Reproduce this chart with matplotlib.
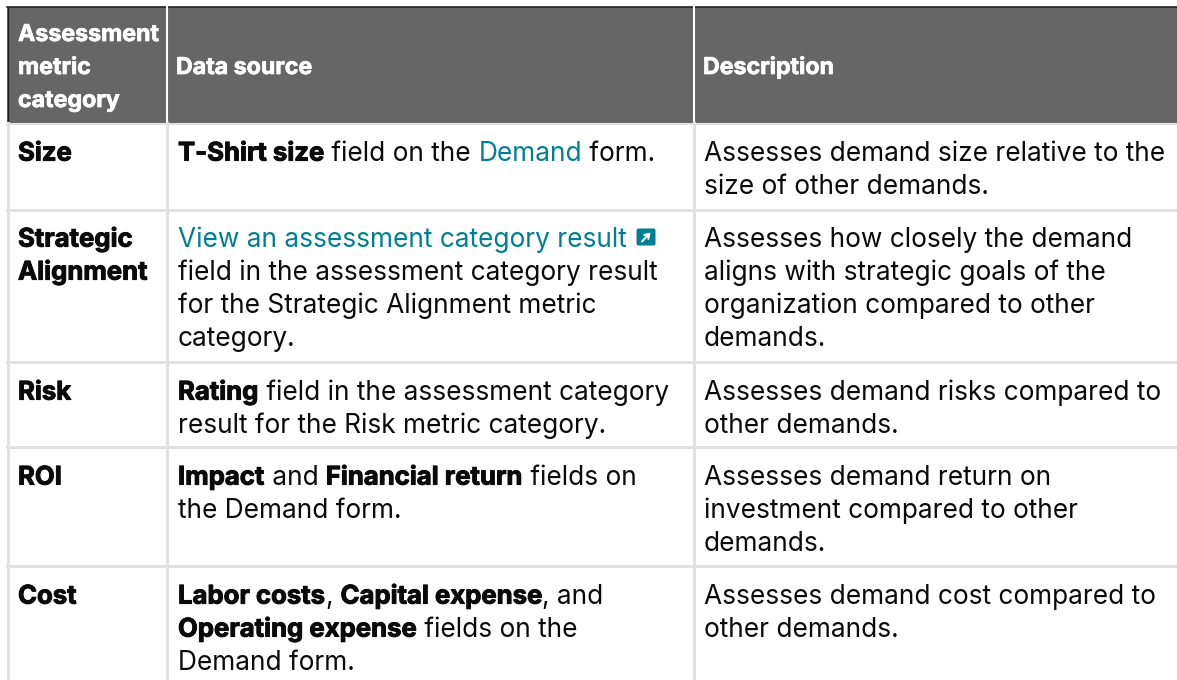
from matplotlib.patches import FancyBboxPatch, Rectangle
from matplotlib.patheffects import withStroke
from matplotlib.pyplot import subplots, savefig

FONT = "Inter"
FONT_SIZE = 18.9
BOLD_SIZE = 18.5
HEADER_SIZE = 16.7
TEXT = "#0a0a0a"
LINK = "#007f94"
HEADER_BG = "#666666"
GRID = "#e1e1e1"

COLUMN_X = [18, 178, 704]
HEADER_X = [18, 176, 703]
SEPARATORS = [167, 694]
ROW_LINES = [209.5, 362, 447, 566]

HEADERS = [["Assessment", "metric", "category"], ["Data source"], ["Description"]]
HEADER_BASELINES = [[41, 74, 107], [74], [74]]

CATEGORIES = [["Size"], ["Strategic", "Alignment"], ["Risk"], ["ROI"], ["Cost"]]
ROW_BASELINES = [160.6, 246.6, 399.6, 484.6, 603.6]
LINE_HEIGHT = 33

# every line is a list of runs: (text, kind), b = bold, r = regular, l = link
SOURCES = [
    [[("T-Shirt size", "b"), (" field on the ", "r"), ("Demand", "l"), (" form.", "r")]],
    [[("View an assessment category result", "l")],
     [("field in the assessment category result", "r")],
     [("for the Strategic Alignment metric", "r")],
     [("category.", "r")]],
    [[("Rating", "b"), (" field in the assessment category", "r")],
     [("result for the Risk metric category.", "r")]],
    [[("Impact", "b"), (" and ", "r"), ("Financial return", "b"), (" fields on", "r")],
     [("the Demand form.", "r")]],
    [[("Labor costs", "b"), (", ", "r"), ("Capital expense", "b"), (", and", "r")],
     [("Operating expense", "b"), (" fields on the", "r")],
     [("Demand form.", "r")]],
]

DESCRIPTIONS = [
    ["Assesses demand size relative to the", "size of other demands."],
    ["Assesses how closely the demand", "aligns with strategic goals of the",
     "organization compared to other", "demands."],
    ["Assesses demand risks compared to", "other demands."],
    ["Assesses demand return on", "investment compared to other", "demands."],
    ["Assesses demand cost compared to", "other demands."],
]


def run_width(ax, text, **style):
    """Advance width of a run, spaces included."""
    renderer = ax.figure.canvas.get_renderer()
    probe = ax.text(0, 0, text + "|", **style)
    bar = ax.text(0, 0, "|", **style)
    width = probe.get_window_extent(renderer).width - bar.get_window_extent(renderer).width
    probe.remove()
    bar.remove()
    return width


def draw_runs(ax, x, y, runs):
    for text, kind in runs:
        style = dict(family=FONT, fontsize=BOLD_SIZE if kind == "b" else FONT_SIZE,
                     va="baseline", ha="left",
                     color=LINK if kind == "l" else TEXT,
                     fontweight="bold" if kind == "b" else "normal")
        t = ax.text(x, y, text, **style)
        if kind == "b":
            t.set_path_effects([withStroke(linewidth=0.7, foreground=TEXT)])
        x += run_width(ax, text, **style)
    return x


def draw_frame(ax):
    ax.add_patch(Rectangle((7, 7), 1180, 116, facecolor=HEADER_BG, edgecolor="none"))
    ax.plot([7, 1177], [7, 7], color="#222222", lw=1.2)
    ax.plot([7.5, 7.5], [7, 123], color="#222222", lw=1)
    ax.plot([7.5, 7.5], [123, 680], color=GRID, lw=2.2)
    for x in SEPARATORS:
        ax.plot([x, x], [7, 123], color="white", lw=1.5)
        ax.plot([x, x], [123, 680], color=GRID, lw=2.2)
    ax.plot([7, 1177], [123.5, 123.5], color=GRID, lw=1.5)
    for y in ROW_LINES:
        ax.plot([7, 1177], [y, y], color=GRID, lw=2.2)


def draw_link_icon(ax):
    ax.add_patch(FancyBboxPatch((638, 230), 16, 14, boxstyle="round,pad=1.5,rounding_size=2",
                                facecolor=LINK, edgecolor="none"))
    ax.annotate("", xy=(650.5, 232.5), xytext=(642, 241.5),
                arrowprops=dict(arrowstyle="->,head_length=0.3,head_width=0.2", color="white", lw=1.5,
                                shrinkA=0, shrinkB=0))


def main():
    fig, ax = subplots(figsize=(11.77, 6.80), dpi=100)
    ax.set_position([0, 0, 1, 1])
    ax.set_xlim(0, 1177)
    ax.set_ylim(680, 0)
    ax.axis("off")

    draw_frame(ax)

    for x, lines, baselines in zip(HEADER_X, HEADERS, HEADER_BASELINES):
        for line, y in zip(lines, baselines):
            t = ax.text(x, y, line, family=FONT, fontsize=HEADER_SIZE, fontweight="bold", color="white")
            t.set_path_effects([withStroke(linewidth=0.5, foreground="white")])

    for i, base in enumerate(ROW_BASELINES):
        for j, line in enumerate(CATEGORIES[i]):
            t = ax.text(COLUMN_X[0], base + j * LINE_HEIGHT, line, family=FONT, fontsize=BOLD_SIZE,
                        fontweight="bold", color=TEXT)
            t.set_path_effects([withStroke(linewidth=0.7, foreground=TEXT)])
        for j, runs in enumerate(SOURCES[i]):
            draw_runs(ax, COLUMN_X[1], base + j * LINE_HEIGHT, runs)
        for j, line in enumerate(DESCRIPTIONS[i]):
            ax.text(COLUMN_X[2], base + j * LINE_HEIGHT, line, family=FONT, fontsize=FONT_SIZE, color=TEXT)

    draw_link_icon(ax)
    savefig("out.png", dpi=100)


if __name__ == "__main__":
    main()
